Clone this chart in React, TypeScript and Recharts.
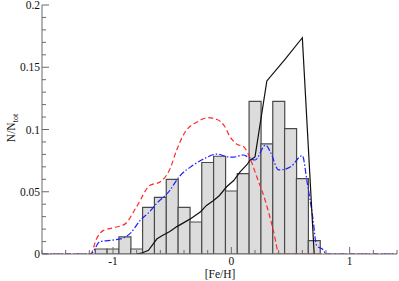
import React from "react";
import { ComposedChart, Bar, Line, XAxis, YAxis } from "recharts";

// ---- data ----
const binCenters = [-1.1, -1.0, -0.9, -0.8, -0.7, -0.6, -0.5, -0.4, -0.3, -0.2, -0.1, 0, 0.1, 0.2, 0.3, 0.4, 0.5, 0.6, 0.7];
const binHeights = [0.004, 0.004, 0.0137, 0.004, 0.0375, 0.0455, 0.06, 0.0375, 0.0257, 0.0735, 0.0785, 0.0506, 0.0645, 0.1226, 0.0884, 0.1226, 0.1007, 0.0605, 0.0107];

const redX = [-1.6, -1.19, -1.14, -1.08, -1.0, -0.9, -0.8, -0.69, -0.6, -0.52, -0.46, -0.39, -0.29, -0.2, -0.12, -0.06, -0.01, 0.05, 0.1, 0.14, 0.215, 0.285, 0.355, 0.405, 1.4];
const redY = [0, 0, 0.012, 0.019, 0.021, 0.024, 0.038, 0.055, 0.058, 0.068, 0.084, 0.098, 0.106, 0.1095, 0.108, 0.103, 0.094, 0.088, 0.0865, 0.081, 0.062, 0.0434, 0.019, 0, 0];

const blueX = [-1.6, -1.19, -1.11, -1.0, -0.92, -0.85, -0.77, -0.69, -0.63, -0.52, -0.45, -0.32, -0.22, -0.12, -0.03, 0.02, 0.1, 0.14, 0.2, 0.29, 0.33, 0.4, 0.45, 0.5, 0.6, 0.64, 0.69, 0.72, 0.78, 0.8, 1.4];
const blueY = [0, 0, 0.0099, 0.0112, 0.0125, 0.017, 0.027, 0.034, 0.0407, 0.051, 0.061, 0.0715, 0.077, 0.0803, 0.078, 0.0778, 0.0795, 0.078, 0.0755, 0.0875, 0.082, 0.0675, 0.068, 0.07, 0.079, 0.058, 0.028, 0.007, 0.003, 0, 0];

const blackX = [-0.8, -0.75, -0.7, -0.63, -0.59, -0.52, -0.46, -0.35, -0.26, -0.21, -0.15, -0.1, -0.04, 0.02, 0.074, 0.13, 0.16, 0.2, 0.3, 0.45, 0.6, 0.7];
const blackY = [0, 0.001, 0.003, 0.012, 0.0145, 0.018, 0.022, 0.028, 0.034, 0.039, 0.043, 0.047, 0.054, 0.059, 0.066, 0.0715, 0.0755, 0.078, 0.139, 0.156, 0.1737, 0];

const xTicks = [-1.6, -1.4, -1.2, -1.0, -0.8, -0.6, -0.4, -0.2, 0, 0.2, 0.4, 0.6, 0.8, 1.0, 1.2, 1.4];
const xMajorTicks = [-1, 0, 1];
const xTickLabels = ["-1", "0", "1"];
const yTicks = [0, 0.01, 0.02, 0.03, 0.04, 0.05, 0.06, 0.07, 0.08, 0.09, 0.1, 0.11, 0.12, 0.13, 0.14, 0.15, 0.16, 0.17, 0.18, 0.19, 0.2];
const yMajorTicks = [0, 0.05, 0.1, 0.15, 0.2];
const yTickLabels = ["0", "0.05", "0.1", "0.15", "0.2"];

const bins = binCenters.map((x, i) => ({ x, h: binHeights[i] }));
const redData = redX.map((x, i) => ({ x, y: redY[i] }));
const blueData = blueX.map((x, i) => ({ x, y: blueY[i] }));
const blackData = blackX.map((x, i) => ({ x, y: blackY[i] }));

const AXIS = "#6a6a6a";
const FONT = "Liberation Serif, DejaVu Serif, serif";
const FS = 11.5;
const textStyle = { fontFamily: FONT, fontSize: FS };

const findMajor = (v: number, majors: number[]) => majors.findIndex((m) => Math.abs(m - v) < 1e-6);

const XTick = (side: "bottom" | "top") => (props: any) => {
  const { x, y, payload } = props;
  const idx = findMajor(payload.value, xMajorTicks);
  const len = idx >= 0 ? 7 : 4;
  const dir = side === "bottom" ? -1 : 1;
  return (
    <g>
      <line x1={x} x2={x} y1={y} y2={y + dir * len} stroke={AXIS} strokeWidth={1} />
      {side === "bottom" && idx >= 0 && (
        <text x={x} y={y + 11} textAnchor="middle" style={textStyle} fill="#111">
          {xTickLabels[idx]}
        </text>
      )}
    </g>
  );
};

const YTick = (side: "left" | "right") => (props: any) => {
  const { x, y, payload } = props;
  const idx = findMajor(payload.value, yMajorTicks);
  const len = idx >= 0 ? 7 : 4;
  const dir = side === "left" ? 1 : -1;
  return (
    <g>
      <line x1={x} x2={x + dir * len} y1={y} y2={y} stroke={AXIS} strokeWidth={1} />
      {side === "left" && idx >= 0 && (
        <text x={x - 2} y={y + 4} textAnchor="end" style={textStyle} fill="#111">
          {yTickLabels[idx]}
        </text>
      )}
    </g>
  );
};

const W = 399;
const H = 281;

export default function App() {
  return (
    <div style={{ position: "absolute", left: 0, top: 0, width: W, height: H, background: "#fff" }}>
      <ComposedChart width={W} height={H} data={bins} barCategoryGap={0} barGap={0} margin={{ top: 5, right: 2, bottom: 0, left: 0 }}>
        <XAxis
          dataKey="x"
          type="number"
          domain={[-1.6, 1.4]}
          allowDataOverflow
          ticks={xTicks}
          interval={0}
          height={27}
          tickSize={0}
          tickMargin={0}
          tickLine={false}
          axisLine={{ stroke: AXIS, strokeWidth: 1 }}
          tick={XTick("bottom")}
        />
        <XAxis xAxisId="bars" dataKey="x" type="number" domain={[-1.6, 1.4]} allowDataOverflow hide />
        <XAxis
          xAxisId="top"
          orientation="top"
          type="number"
          domain={[-1.6, 1.4]}
          allowDataOverflow
          ticks={xTicks}
          interval={0}
          height={0}
          tickSize={0}
          tickMargin={0}
          tickLine={false}
          axisLine={{ stroke: AXIS, strokeWidth: 1 }}
          tick={XTick("top")}
        />
        <YAxis
          type="number"
          domain={[0, 0.2]}
          allowDataOverflow
          ticks={yTicks}
          interval={0}
          width={42}
          tickSize={0}
          tickMargin={0}
          tickLine={false}
          axisLine={{ stroke: AXIS, strokeWidth: 1 }}
          tick={YTick("left")}
        />
        <YAxis
          yAxisId="right"
          orientation="right"
          type="number"
          domain={[0, 0.2]}
          allowDataOverflow
          ticks={yTicks}
          interval={0}
          width={0}
          tickSize={0}
          tickMargin={0}
          tickLine={false}
          axisLine={{ stroke: AXIS, strokeWidth: 1 }}
          tick={YTick("right")}
        />
        <Bar xAxisId="bars" dataKey="h" fill="#dcdcdc" stroke="#4a4a4a" strokeWidth={1.2} isAnimationActive={false} />
        <Line data={redData} dataKey="y" type="monotone" stroke="#ff2a2a" strokeWidth={1.2} strokeDasharray="5 3" dot={false} activeDot={false} isAnimationActive={false} />
        <Line data={blueData} dataKey="y" type="monotone" stroke="#1f1fff" strokeWidth={1.2} strokeDasharray="6 2 1.5 2" dot={false} activeDot={false} isAnimationActive={false} />
        <Line data={blackData} dataKey="y" type="linear" stroke="#111" strokeWidth={1.2} dot={false} activeDot={false} isAnimationActive={false} />
      </ComposedChart>
      <svg width={W} height={H} style={{ position: "absolute", left: 0, top: 0, pointerEvents: "none" }}>
        <text x={15} y={128} transform="rotate(-90 15 128)" textAnchor="middle" style={textStyle} fill="#111">
          N/N<tspan style={{ fontSize: 8 }} dy={3}>tot</tspan>
        </text>
        <text x={220} y={278} textAnchor="middle" style={textStyle} fill="#111">
          [Fe/H]
        </text>
      </svg>
    </div>
  );
}
